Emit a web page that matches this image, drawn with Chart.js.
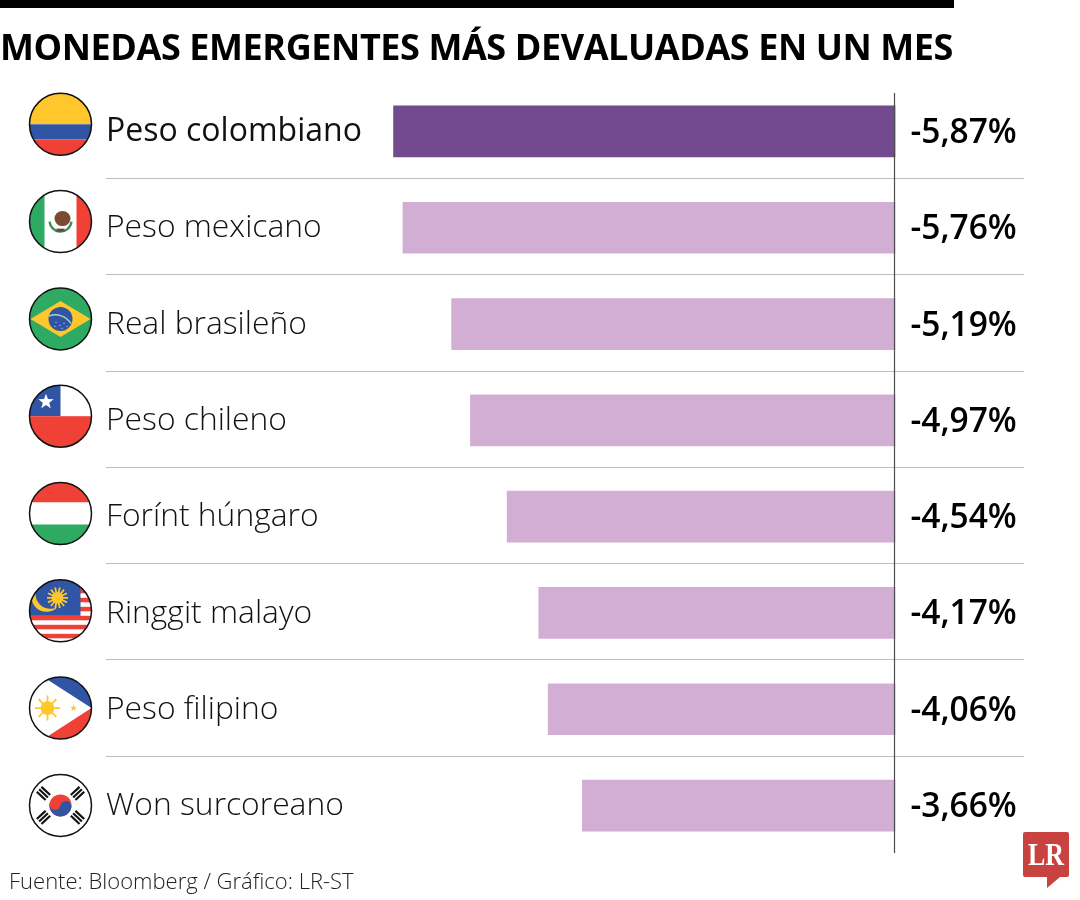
<!DOCTYPE html>
<html lang="es">
<head>
<meta charset="utf-8">
<title>Monedas emergentes</title>
<script src="https://cdn.jsdelivr.net/npm/chart.js@4"></script>
<style>
    html, body { margin: 0; padding: 0; background: #fff; }
    #page { position: relative; width: 1080px; height: 900px; overflow: hidden; }
    #topBar { position: absolute; left: 0; top: 0; width: 954px; height: 8px; background: #000; }
    #title { position: absolute; left: 0; top: 22px; width: 1000px; font: 700 36px "Open Sans", sans-serif; letter-spacing: -0.42px; color: #000; white-space: nowrap; }
    #source { position: absolute; left: 9px; top: 865px; font: 300 22px "Open Sans", sans-serif; color: #222; white-space: nowrap; }
    #logo { position: absolute; left: 1023px; top: 831px; }
    canvas { position: absolute; left: 0; top: 0; }
</style>
</head>
<body>
<div id="page">
    <canvas id="chart" width="1080" height="900"></canvas>
    <div id="topBar"></div>
    <div id="title">MONEDAS EMERGENTES MÁS DEVALUADAS EN UN MES</div>
    <div id="source">Fuente: Bloomberg / Gráfico: LR-ST</div>
    <svg id="logo" width="47" height="58" viewBox="0 0 47 58">
        <path d="M2 1H44Q46 1 46 3V44Q46 46 44 46H37L24 57V46H2Q0 46 0 44V3Q0 1 2 1Z" fill="#C8423F"/>
        <text x="23" y="34" text-anchor="middle" font-family="Liberation Serif" font-weight="700" font-size="32" textLength="36" lengthAdjust="spacingAndGlyphs" fill="#fff">LR</text>
    </svg>
</div>
<script>
// === Datos ===
const categories = ['Peso colombiano', 'Peso mexicano', 'Real brasileño', 'Peso chileno', 'Forínt húngaro', 'Ringgit malayo', 'Peso filipino', 'Won surcoreano'];
const changes = [-5.87, -5.76, -5.19, -4.97, -4.54, -4.17, -4.06, -3.66];
const flags = ['co', 'mx', 'br', 'cl', 'hu', 'my', 'ph', 'kr'];

const highlightColor = '#734A8D';
const barColor = '#D3AED4';
const gridColor = '#BDBDBD';
const yellow = '#FFC72C';
const blue = '#2F55A4';
const red = '#EF4136';
const green = '#2EAA63';

function star(ctx, x, y, r, color) {
    ctx.fillStyle = color;
    ctx.beginPath();
    for (let i = 0; i < 10; i++) {
        const a = -Math.PI / 2 + i * Math.PI / 5;
        const d = i % 2 ? r * 0.42 : r;
        ctx.lineTo(x + Math.cos(a) * d, y + Math.sin(a) * d);
    }
    ctx.closePath();
    ctx.fill();
}

function sun(ctx, x, y, r, rays) {
    ctx.strokeStyle = yellow;
    ctx.lineWidth = 1.8;
    for (let i = 0; i < rays; i++) {
        const a = i * 2 * Math.PI / rays;
        ctx.beginPath();
        ctx.moveTo(x, y);
        ctx.lineTo(x + Math.cos(a) * r, y + Math.sin(a) * r);
        ctx.stroke();
    }
    ctx.fillStyle = yellow;
    ctx.beginPath();
    ctx.arc(x, y, r * 0.55, 0, Math.PI * 2);
    ctx.fill();
}

function rect(ctx, color, x, y, w, h) {
    ctx.fillStyle = color;
    ctx.fillRect(x, y, w, h);
}

// cada bandera se dibuja centrada en (0,0) con radio 31
const flagPainters = {
    co(ctx) {
        rect(ctx, yellow, -31, -31, 62, 31);
        rect(ctx, blue, -31, 0, 62, 15);
        rect(ctx, red, -31, 15, 62, 16);
    },
    mx(ctx) {
        rect(ctx, '#fff', -31, -31, 62, 62);
        rect(ctx, green, -31, -31, 15, 62);
        rect(ctx, red, 16, -31, 15, 62);
        ctx.strokeStyle = '#3E8E57';
        ctx.lineWidth = 2.4;
        ctx.beginPath();
        ctx.arc(0, -1, 11, 0.1, Math.PI - 0.1);
        ctx.stroke();
        ctx.fillStyle = '#7A4A32';
        ctx.beginPath();
        ctx.ellipse(2, -3, 8, 7.5, 0, 0, Math.PI * 2);
        ctx.fill();
        rect(ctx, '#6B4A3A', -4, 7, 8, 3);
    },
    br(ctx) {
        rect(ctx, green, -31, -31, 62, 62);
        ctx.fillStyle = yellow;
        ctx.beginPath();
        ctx.moveTo(-30, 0);
        ctx.lineTo(0, -18);
        ctx.lineTo(30, 0);
        ctx.lineTo(0, 18);
        ctx.closePath();
        ctx.fill();
        ctx.fillStyle = blue;
        ctx.beginPath();
        ctx.arc(0, 0, 12, 0, Math.PI * 2);
        ctx.fill();
        ctx.strokeStyle = '#A9D5C0';
        ctx.lineWidth = 1.5;
        ctx.beginPath();
        ctx.arc(-5, 14, 18, -Math.PI * 0.62, -Math.PI * 0.17);
        ctx.stroke();
        ctx.fillStyle = '#DCE6F5';
        [[-5, 3], [-1, 6], [3, 4], [6, 7], [1, 9], [-6, 7]].forEach(([x, y]) => ctx.fillRect(x, y, 1, 1));
    },
    cl(ctx) {
        rect(ctx, '#fff', -31, -31, 62, 31);
        rect(ctx, blue, -31, -31, 31, 31);
        rect(ctx, red, -31, 0, 62, 31);
        star(ctx, -14.5, -14.5, 8, '#fff');
    },
    hu(ctx) {
        rect(ctx, red, -31, -31, 62, 20);
        rect(ctx, '#fff', -31, -11, 62, 22);
        rect(ctx, green, -31, 11, 62, 20);
    },
    my(ctx) {
        rect(ctx, '#fff', -31, -31, 62, 62);
        for (let i = 0; i < 7; i++) {
            rect(ctx, red, -31, -31 + i * 9, 62, 4.5);
        }
        rect(ctx, blue, -31, -31, 51, 36);
        ctx.fillStyle = yellow;
        ctx.beginPath();
        ctx.arc(-14, -14, 15, 0, Math.PI * 2);
        ctx.fill();
        ctx.fillStyle = blue;
        ctx.beginPath();
        ctx.arc(-10, -17, 15, 0, Math.PI * 2);
        ctx.fill();
        sun(ctx, -3, -13, 10.5, 14);
    },
    ph(ctx) {
        rect(ctx, blue, -31, -31, 62, 31);
        rect(ctx, red, -31, 0, 62, 31);
        ctx.fillStyle = '#fff';
        ctx.beginPath();
        ctx.moveTo(-31, -40);
        ctx.lineTo(31, 0);
        ctx.lineTo(-31, 40);
        ctx.closePath();
        ctx.fill();
        sun(ctx, -13, 0, 12.5, 8);
        star(ctx, 13, 0, 3.5, yellow);
    },
    kr(ctx) {
        rect(ctx, '#fff', -31, -31, 62, 62);
        ctx.fillStyle = red;
        ctx.beginPath();
        ctx.arc(0, 0, 11, 0, Math.PI * 2);
        ctx.fill();
        ctx.fillStyle = blue;
        ctx.beginPath();
        ctx.arc(0, 0, 11, 0.2, Math.PI + 0.2);
        ctx.fill();
        ctx.fillStyle = red;
        ctx.beginPath();
        ctx.arc(-5.4, -1.1, 5.5, 0, Math.PI * 2);
        ctx.fill();
        ctx.fillStyle = blue;
        ctx.beginPath();
        ctx.arc(5.4, 1.1, 5.5, 0, Math.PI * 2);
        ctx.fill();
        ctx.fillStyle = '#111';
        [[-17, -12, 0.75], [17, -12, -0.75], [-17, 12, -0.75], [17, 12, 0.75]].forEach(([x, y, a]) => {
            ctx.save();
            ctx.translate(x, y);
            ctx.rotate(a);
            for (let i = -1; i <= 1; i++) {
                ctx.fillRect(-6, i * 3.4 - 1.1, 12, 2.2);
            }
            ctx.restore();
        });
    }
};

// separadores entre filas, linea del cero, valores y banderas
const decorations = {
    id: 'decorations',
    afterDatasetsDraw(chart) {
        const ctx = chart.ctx;
        const area = chart.chartArea;
        const xScale = chart.scales.x;
        const yScale = chart.scales.y;
        const zero = Math.round(xScale.getPixelForValue(0)) - 0.5;

        ctx.save();
        ctx.strokeStyle = gridColor;
        ctx.lineWidth = 1;
        for (let i = 0; i < categories.length - 1; i++) {
            const mid = (yScale.getPixelForTick(i) + yScale.getPixelForTick(i + 1)) / 2;
            const y = Math.floor(mid - 1.2) + 0.5;
            ctx.beginPath();
            ctx.moveTo(area.left, y);
            ctx.lineTo(area.right, y);
            ctx.stroke();
        }

        ctx.strokeStyle = '#4D4D4D';
        ctx.lineWidth = 1.2;
        ctx.beginPath();
        ctx.moveTo(zero, 93);
        ctx.lineTo(zero, 853);
        ctx.stroke();

        ctx.fillStyle = '#000';
        ctx.font = '600 33.5px "Open Sans", sans-serif';
        ctx.textAlign = 'left';
        ctx.textBaseline = 'middle';
        changes.forEach((v, i) => {
            const label = v.toFixed(2).replace('.', ',') + '%';
            ctx.fillText(label, zero + 16, yScale.getPixelForTick(i) + 2);
        });

        flags.forEach((code, i) => {
            ctx.save();
            ctx.translate(60.5, 124.3 + i * 97.3);
            ctx.beginPath();
            ctx.arc(0, 0, 31, 0, Math.PI * 2);
            ctx.save();
            ctx.clip();
            flagPainters[code](ctx);
            ctx.restore();
            ctx.strokeStyle = '#111';
            ctx.lineWidth = 1.5;
            ctx.beginPath();
            ctx.arc(0, 0, 31, 0, Math.PI * 2);
            ctx.stroke();
            ctx.restore();
        });
        ctx.restore();
    }
};

new Chart(document.getElementById('chart'), {
    type: 'bar',
    data: {
        labels: categories,
        datasets: [{
            data: changes,
            backgroundColor: changes.map((v, i) => i === 0 ? highlightColor : barColor),
            barThickness: 51,
            borderWidth: 0
        }]
    },
    options: {
        indexAxis: 'y',
        responsive: false,
        animation: false,
        layout: { padding: { left: 106, right: 56, top: 83.3, bottom: 46.3 } },
        plugins: { legend: { display: false }, tooltip: { enabled: false } },
        scales: {
            x: { display: false, min: -9.236, max: 1.51 },
            y: {
                border: { display: false },
                grid: { display: false, drawTicks: false },
                ticks: {
                    mirror: true,
                    padding: 0,
                    labelOffset: 0.5,
                    color: '#111',
                    font: (c) => ({ family: '"Open Sans", sans-serif', size: c.index === 0 ? 32 : 31.8, weight: c.index === 0 ? '500' : '300' })
                }
            }
        }
    },
    plugins: [decorations]
});
</script>
</body>
</html>
